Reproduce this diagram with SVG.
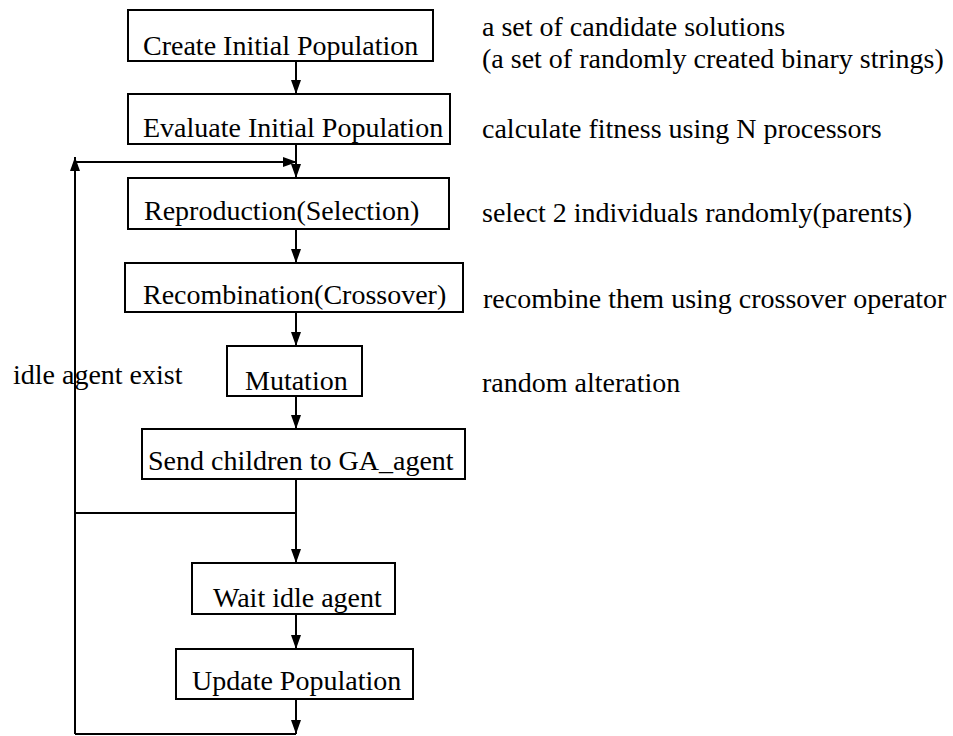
<svg xmlns="http://www.w3.org/2000/svg" width="953" height="736" viewBox="0 0 953 736">
  <defs>
    <marker id="arrow" viewBox="0 0 14 10" refX="14" refY="5" markerWidth="14" markerHeight="10" markerUnits="userSpaceOnUse" orient="auto">
      <path d="M0,0 L14,5 L0,10 Z" fill="#000"/>
    </marker>
    <style>
      .box { fill: #fff; stroke: #000; stroke-width: 2; }
      .lbl { font-family: "Liberation Serif", "Times New Roman", serif; font-size: 28px; fill: #000; }
      .wire { fill: none; stroke: #000; stroke-width: 2; }
      .arr { fill: none; stroke: #000; stroke-width: 2; marker-end: url(#arrow); }
    </style>
  </defs>
  <rect width="953" height="736" fill="#fff"/>

  <!-- connectors -->
  <g id="connectors">
    <line class="arr" x1="296" y1="61" x2="296" y2="94"/>
    <line class="arr" x1="296" y1="144" x2="296" y2="178"/>
    <line class="arr" x1="296" y1="229" x2="296" y2="263"/>
    <line class="arr" x1="296" y1="312" x2="296" y2="346"/>
    <line class="arr" x1="296" y1="396" x2="296" y2="429"/>
    <line class="wire" x1="296" y1="479" x2="296" y2="513"/>
    <line class="arr" x1="296" y1="513" x2="296" y2="563"/>
    <line class="arr" x1="296" y1="614" x2="296" y2="649"/>
    <line class="arr" x1="296" y1="699" x2="296" y2="734"/>
    <!-- loop back: bottom line, branch at 513, up the left side -->
    <line class="wire" x1="75" y1="734" x2="296" y2="734"/>
    <line class="wire" x1="75" y1="513" x2="296" y2="513"/>
    <line class="arr" x1="75" y1="734" x2="75" y2="157"/>
    <line class="arr" x1="75" y1="162" x2="297" y2="162"/>
  </g>

  <g id="create">
    <rect class="box" x="128" y="10" width="305" height="51"/>
    <text class="lbl" x="143" y="55">Create Initial Population</text>
  </g>
  <g id="evaluate">
    <rect class="box" x="128" y="94" width="322" height="50"/>
    <text class="lbl" x="143" y="137">Evaluate Initial Population</text>
  </g>
  <g id="reproduction">
    <rect class="box" x="128" y="178" width="321" height="51"/>
    <text class="lbl" x="144" y="220">Reproduction(Selection)</text>
  </g>
  <g id="recombination">
    <rect class="box" x="125" y="263" width="338" height="49"/>
    <text class="lbl" x="143" y="304">Recombination(Crossover)</text>
  </g>
  <g id="mutation">
    <rect class="box" x="227" y="346" width="135" height="50"/>
    <text class="lbl" x="245" y="390">Mutation</text>
  </g>
  <g id="send">
    <rect class="box" x="142" y="429" width="323" height="50"/>
    <text class="lbl" x="148" y="470">Send children to GA_agent</text>
  </g>
  <g id="wait">
    <rect class="box" x="192" y="563" width="203" height="51"/>
    <text class="lbl" x="213" y="607">Wait idle agent</text>
  </g>
  <g id="update">
    <rect class="box" x="176" y="649" width="237" height="50"/>
    <text class="lbl" x="192" y="690">Update Population</text>
  </g>

  <g id="loop-label">
    <text class="lbl" x="13" y="384">idle agent exist</text>
  </g>

  <g id="notes">
    <text class="lbl" x="482" y="36">a set of candidate solutions</text>
    <text class="lbl" x="482" y="68">(a set of randomly created binary strings)</text>
    <text class="lbl" x="482" y="138">calculate fitness using N processors</text>
    <text class="lbl" x="482" y="222">select 2 individuals randomly(parents)</text>
    <text class="lbl" x="483" y="308">recombine them using crossover operator</text>
    <text class="lbl" x="482" y="392">random alteration</text>
  </g>
</svg>
